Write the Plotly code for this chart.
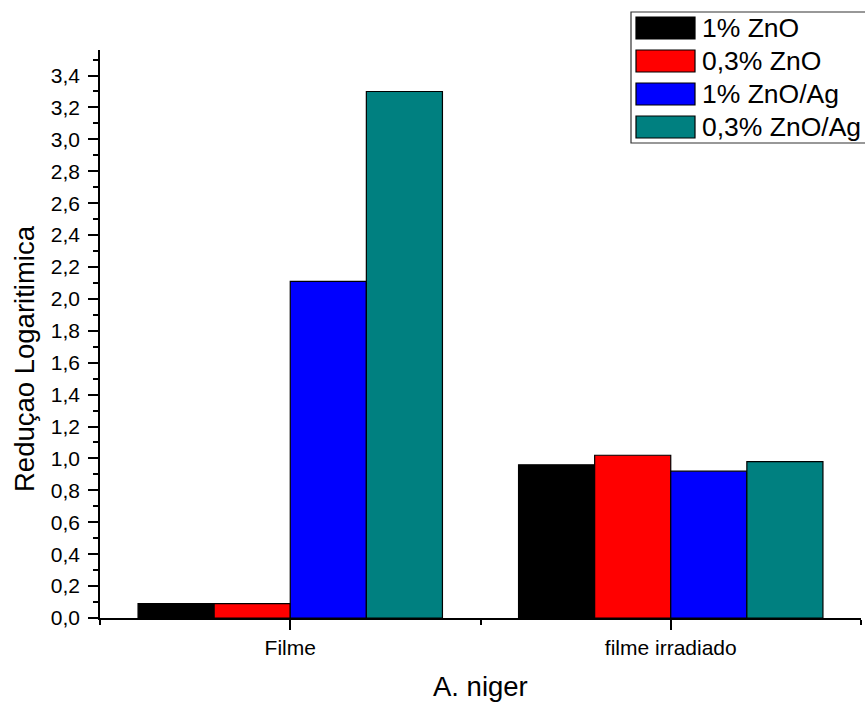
import plotly.graph_objects as go

# Log reduction of A. niger for each film formulation
categories = ["Filme", "filme irradiado"]
series_names = ["1% ZnO", "0,3% ZnO", "1% ZnO/Ag", "0,3% ZnO/Ag"]
series_colors = ["#000000", "#ff0000", "#0000ff", "#008080"]
values_1_zno = [0.09, 0.96]
values_03_zno = [0.09, 1.02]
values_1_zno_ag = [2.11, 0.92]
values_03_zno_ag = [3.30, 0.98]
series_values = [values_1_zno, values_03_zno, values_1_zno_ag, values_03_zno_ag]

W, H = 865, 702
L, R, T, B = 100, 4, 50, 84
PW, PH = W - L - R, H - T - B
FONT = "Liberation Sans, Arial, sans-serif"

x_pos = list(range(len(categories)))

fig = go.Figure()
for name, color, vals in zip(series_names, series_colors, series_values):
    fig.add_trace(go.Bar(
        x=x_pos, y=vals, name=name,
        marker=dict(color=color, line=dict(color="#000000", width=1.2)),
        showlegend=False,
    ))


def px_x(px):
    return (px - L) / PW


def px_y(py):
    return (H - B - py) / PH


# Legend box with large swatches
shapes = [dict(type="rect", xref="paper", yref="paper",
               x0=px_x(631), x1=px_x(866), y0=px_y(143), y1=px_y(12),
               line=dict(color="#333333", width=1.2), fillcolor="white")]
annotations = []
row_h = 33
for i, (name, color) in enumerate(zip(series_names, series_colors)):
    top = 17 + i * row_h
    shapes.append(dict(type="rect", xref="paper", yref="paper",
                       x0=px_x(636), x1=px_x(695), y0=px_y(top + 22), y1=px_y(top),
                       line=dict(color="#000000", width=1.2), fillcolor=color))
    annotations.append(dict(text=name, xref="paper", yref="paper",
                            x=px_x(700), y=px_y(top + 11), xanchor="left", yanchor="middle",
                            showarrow=False, font=dict(size=26.5, color="black", family=FONT)))

# Axis titles
annotations.append(dict(text="A. niger", xref="paper", yref="paper",
                        x=0.5, y=px_y(686), xanchor="center", yanchor="middle",
                        showarrow=False, font=dict(size=27.5, color="black", family=FONT)))
annotations.append(dict(text="Reduçao Logaritimica", xref="paper", yref="paper",
                        x=px_x(24), y=px_y(359), xanchor="center", yanchor="middle",
                        textangle=-90, showarrow=False,
                        font=dict(size=27.5, color="black", family=FONT)))

fig.update_layout(
    width=W, height=H,
    margin=dict(l=L, r=R, t=T, b=B),
    paper_bgcolor="white", plot_bgcolor="white",
    barmode="group", bargap=0.2, bargroupgap=0,
    separators=",.",
    font=dict(family=FONT, color="black"),
    shapes=shapes, annotations=annotations,
    showlegend=False,
)
fig.update_xaxes(
    range=[-0.5, 1.5], tickvals=x_pos, ticktext=categories,
    showline=True, linecolor="black", linewidth=1.5,
    ticks="outside", ticklen=10, tickwidth=1.5, tickcolor="black",
    tickfont=dict(size=21, family=FONT, color="black"),
    minor=dict(tickmode="linear", tick0=0.5, dtick=1, ticks="outside",
               ticklen=5, tickwidth=1.5, tickcolor="black"),
    showgrid=False, zeroline=False,
)
fig.update_yaxes(
    range=[0, 3.56], tickmode="linear", tick0=0, dtick=0.2, tickformat=".1f",
    showline=True, linecolor="black", linewidth=1.5,
    ticks="outside", ticklen=10, tickwidth=1.5, tickcolor="black",
    tickfont=dict(size=21, family=FONT, color="black"),
    ticklabelstandoff=4,
    minor=dict(tickmode="linear", tick0=0.1, dtick=0.2, ticks="outside",
               ticklen=5, tickwidth=1.5, tickcolor="black"),
    showgrid=False, zeroline=False,
)

fig.write_html("out.html")
